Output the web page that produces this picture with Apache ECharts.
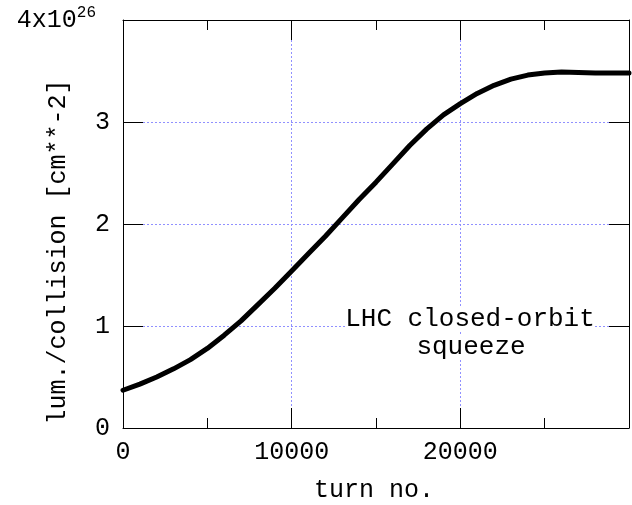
<!DOCTYPE html>
<html>
<head>
<meta charset="utf-8">
<script src="https://cdn.jsdelivr.net/npm/echarts@6/dist/echarts.min.js"></script>
<style>html,body{margin:0;padding:0;background:#fff}#c{width:632px;height:505px}</style>
</head>
<body>
<div id="c"></div>
<script>
var turns = [0,1000,2000,3000,4000,5000,6000,7000,8000,9000,10000,11000,12000,13000,14000,15000,16000,17000,18000,19000,20000,21000,22000,23000,24000,25000,26000,27000,28000,29000,30000];
var lumi  = [0.37,0.43,0.50,0.58,0.67,0.78,0.91,1.05,1.21,1.37,1.54,1.71,1.88,2.06,2.24,2.41,2.59,2.77,2.93,3.07,3.18,3.28,3.36,3.42,3.46,3.48,3.49,3.485,3.48,3.48,3.48];
var xTicks = [0,10000,20000];
var yTickLabels = ['0','1','2','3','4x10'];
var yExponent = '26';
var annotation = ['LHC closed-orbit','squeeze'];
var xName = 'turn no.';
var yName = 'lum./collision [cm**-2]';

var FONT = "'Liberation Mono','Courier New',monospace";
var chart = echarts.init(document.getElementById('c'), null, {renderer:'canvas'});
var pts = turns.map(function(t,i){return [t,lumi[i]];});
var gridColor = '#9090ff';

function baseX(pos, showLabels){
  return {
    type:'value', position:pos, min:0, max:30000, interval:10000,
    axisLine:{show:true, onZero:false, lineStyle:{color:'#000', width:1}},
    axisTick:{show:true, inside:true, length:20, lineStyle:{color:'#000', width:1}},
    minorTick:{show:true, splitNumber:2, length:10, lineStyle:{color:'#000', width:1}},
    splitLine:{show:showLabels, lineStyle:{color:gridColor, type:[2,2], width:1}},
    minorSplitLine:{show:false},
    axisLabel:{show:showLabels, fontFamily:FONT, fontSize:25, color:'#000', margin:12,
      formatter:function(v){return xTicks.indexOf(v)>=0 ? String(v) : '';}}
  };
}
function baseY(pos, showLabels){
  return {
    type:'value', position:pos, min:0, max:4, interval:1,
    axisLine:{show:true, onZero:false, lineStyle:{color:'#000', width:1}},
    axisTick:{show:true, inside:true, length:20, lineStyle:{color:'#000', width:1}},
    splitLine:{show:showLabels, lineStyle:{color:gridColor, type:[2,2], width:1}},
    axisLabel:{show:showLabels, fontFamily:FONT, fontSize:25, color:'#000', margin:13,
      formatter:function(v){
        var i = Math.round(v);
        if (i === 4) return '{b|' + yTickLabels[4] + '}{s|' + yExponent + '}{p|}';
        return yTickLabels[i];
      },
      rich:{
        b:{fontFamily:FONT, fontSize:25, color:'#000'},
        s:{fontFamily:FONT, fontSize:16, color:'#000', verticalAlign:'top', padding:[0,0,14,0]},
        p:{width:14}
      }
    }
  };
}

chart.setOption({
  animation:false,
  backgroundColor:'#fff',
  grid:{left:123, top:20, width:510, height:408, containLabel:false},
  xAxis:[baseX('bottom', true), baseX('top', false)],
  yAxis:[baseY('left', true), baseY('right', false)],
  series:[{
    type:'line', xAxisIndex:0, yAxisIndex:0, data:pts, showSymbol:false,
    smooth:false,
    lineStyle:{color:'#000', width:5, join:'round', cap:'round'}, z:3
  }],
  graphic:[
    {type:'text', x:470, y:319, z:10, style:{text:annotation[0], font:"26px "+FONT, fill:'#000', align:'center', verticalAlign:'middle', backgroundColor:'#fff'}},
    {type:'text', x:471, y:347, z:10, style:{text:annotation[1], font:"26px "+FONT, fill:'#000', align:'center', verticalAlign:'middle', backgroundColor:'#fff'}},
    {type:'text', x:374, y:490, style:{text:xName, font:"25px "+FONT, fill:'#000', align:'center', verticalAlign:'middle'}},
    {type:'text', x:58, y:252, rotation:Math.PI/2, style:{text:yName, font:"25px "+FONT, fill:'#000', align:'center', verticalAlign:'middle'}}
  ]
});
</script>
</body>
</html>
